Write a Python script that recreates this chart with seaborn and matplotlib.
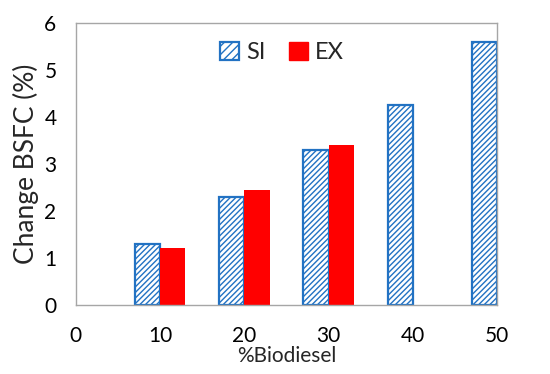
import pandas as pd
import matplotlib
matplotlib.use("Agg")
import matplotlib.pyplot as plt
import seaborn as sns
from matplotlib.patches import Patch

biodiesel = [10, 20, 30, 40, 50]
si_vals = [1.30, 2.31, 3.30, 4.26, 5.59]
ex_vals = [1.22, 2.46, 3.41, None, None]

df = pd.DataFrame({
    "Biodiesel": biodiesel * 2,
    "Change": si_vals + ex_vals,
    "Method": ["SI"] * 5 + ["EX"] * 5,
})

sns.set_style("white")
plt.rcParams["font.family"] = ["Lato", "DejaVu Sans"]
plt.rcParams["hatch.linewidth"] = 1.0

blue = "#2272C3"
red = "#FF0000"
grey = "#A6A6A6"

fig = plt.figure(figsize=(5.5, 3.74), dpi=100)
ax = fig.add_axes([0.138, 0.184, 0.766, 0.754])

sns.barplot(data=df, x="Biodiesel", y="Change", hue="Method", native_scale=True,
            width=0.6, palette={"SI": "white", "EX": red}, saturation=1,
            ax=ax, legend=False)

for bar in ax.containers[0]:
    bar.set_edgecolor(blue)
    bar.set_hatch("//////")
    bar.set_linewidth(1.6)
for bar in ax.containers[1]:
    bar.set_edgecolor(red)
    bar.set_linewidth(0)

ax.set_xlim(0, 50)
ax.set_ylim(0, 6)
ax.set_xticks([0, 10, 20, 30, 40, 50])
ax.set_yticks([0, 1, 2, 3, 4, 5, 6])
ax.tick_params(axis="both", labelsize=15, colors=grey, labelcolor="black",
               direction="out", length=6, width=1)
ax.tick_params(axis="x", pad=9)
ax.tick_params(axis="y", pad=8)
for s in ax.spines.values():
    s.set_color(grey)
    s.set_linewidth(1)

ax.set_xlabel("%Biodiesel", fontsize=15, labelpad=0)
ax.set_ylabel("Change BSFC (%)", fontsize=19, labelpad=4)

handles = [Patch(facecolor="white", edgecolor=blue, hatch="////", linewidth=1.6, label="SI"),
           Patch(facecolor=red, edgecolor=red, label="EX")]
ax.legend(handles=handles, loc="upper center", bbox_to_anchor=(0.49, 1.01), ncol=2,
          frameon=False, fontsize=17, handlelength=0.8, handleheight=0.8,
          handletextpad=0.3, columnspacing=1.0)

fig.savefig("out.png", dpi=100)
